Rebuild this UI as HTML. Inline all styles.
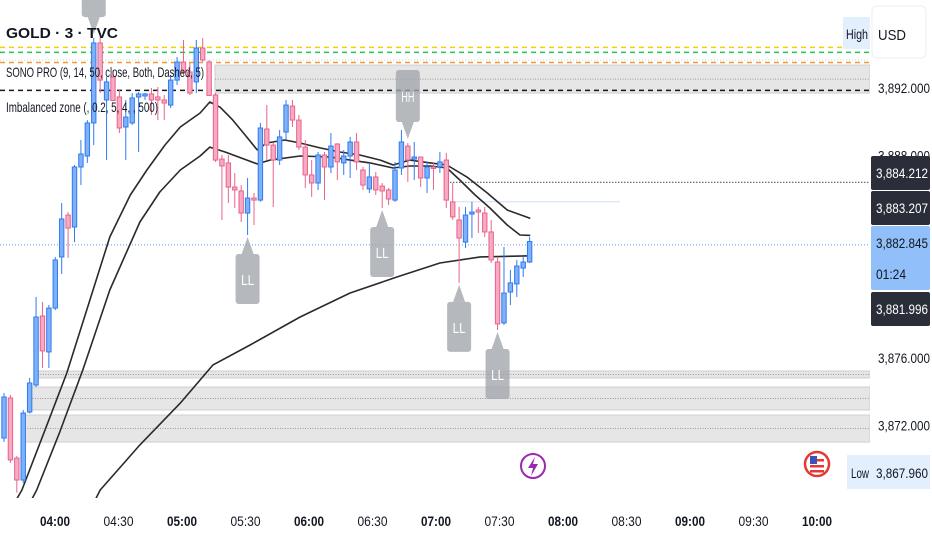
<!DOCTYPE html>
<html><head><meta charset="utf-8"><title>GOLD 3 TVC</title>
<style>
html,body{margin:0;padding:0;background:#fff;}
svg{display:block;font-family:"Liberation Sans",sans-serif;}
</style></head>
<body>
<svg id="chart" width="932" height="550" viewBox="0 0 932 550" xmlns="http://www.w3.org/2000/svg">
<defs><clipPath id="plotclip"><rect x="0" y="0" width="870" height="498"/></clipPath></defs>
<rect x="0" y="0" width="932" height="550" fill="#ffffff"/>
<g id="zones" clip-path="url(#plotclip)"></g>
<g id="lines" clip-path="url(#plotclip)"></g>
<g id="candles" clip-path="url(#plotclip)"></g>
<g id="markers" clip-path="url(#plotclip)"></g>
<g id="legend">
  <text x="6" y="38" font-size="15" font-weight="bold" fill="#131722" textLength="112" lengthAdjust="spacingAndGlyphs">GOLD · 3 · TVC</text>
  <text x="6" y="77" font-size="14" fill="#131722" textLength="198" lengthAdjust="spacingAndGlyphs">SONO PRO (9, 14, 50, close, Both, Dashed, 5)</text>
  <text x="6" y="112" font-size="14" fill="#131722" textLength="152" lengthAdjust="spacingAndGlyphs">Imbalanced zone (, 0.2, 5, 4, , 500)</text>
</g>
<g id="timeaxis"></g>
<g id="priceaxis"></g>
<g>
  <circle cx="533" cy="466" r="12" fill="#fff" stroke="#9c27b0" stroke-width="2"/>
  <path d="M535 457 L528 468 L533 468 L531 476 L538 464 L533 464 Z" fill="#9c27b0"/>
  <circle cx="817" cy="464" r="12" fill="#fff" stroke="#e53935" stroke-width="2.5"/>
  <rect x="810" y="459" width="14" height="2.5" fill="#e53935"/>
  <rect x="810" y="465" width="14" height="2.5" fill="#e53935"/>
  <rect x="810" y="470" width="14" height="2.5" fill="#e53935"/>
  <rect x="810" y="456" width="7" height="8" fill="#3f51b5"/>
</g>
</svg>
<script>
// ---- data ----
var opens = [3871.20,3873.57,3870.01,3868.71,3872.74,3874.34,3878.43,3876.30,3878.90,3881.93,
3884.41,3883.70,3887.26,3887.91,3889.87,3894.61,3891.23,3892.59,3891.41,3889.63,
3889.87,3891.41,3891.47,3891.59,3891.41,3891.23,3890.93,3892.41,3893.48,3892.89,
3892.30,3894.31,3893.48,3891.53,3887.73,3887.50,3886.07,3885.84,3884.53,3885.42,
3885.30,3889.51,3888.56,3887.67,3889.33,3890.87,3890.04,3888.44,3886.79,3886.31,
3887.97,3887.26,3888.62,3887.50,3887.91,3888.74,3887.08,3885.96,3886.67,3886.13,
3885.90,3885.30,3887.20,3888.50,3887.73,3887.85,3886.61,3887.26,3887.26,3887.67,
3885.19,3884.12,3882.81,3884.47,3884.71,3884.53,3883.41,3881.63,3878.02,3879.85,
3880.33,3881.27,3881.63];
var highs = [3873.87,3873.75,3870.13,3872.86,3874.76,3879.56,3879.26,3879.08,3881.93,3885.13,
3884.59,3887.38,3888.86,3890.04,3894.90,3895.02,3892.59,3893.01,3891.82,3891.23,
3891.64,3891.70,3891.64,3891.94,3892.00,3891.53,3892.71,3893.78,3894.79,3893.42,
3894.79,3894.90,3893.60,3891.64,3887.97,3887.97,3886.90,3886.19,3886.61,3885.72,
3889.87,3890.93,3888.68,3889.45,3891.23,3891.23,3890.34,3888.86,3887.67,3888.15,
3888.15,3889.27,3888.68,3888.27,3889.04,3889.27,3887.26,3887.50,3886.96,3886.31,
3886.01,3887.56,3889.45,3888.68,3888.74,3887.85,3887.56,3887.50,3888.15,3888.09,
3886.31,3884.89,3884.89,3885.19,3884.89,3884.89,3884.12,3881.93,3882.52,3881.16,
3881.75,3881.93,3883.11];
var lows = [3870.96,3869.72,3867.96,3868.53,3872.65,3874.22,3875.35,3875.35,3878.78,3880.92,
3881.87,3882.81,3886.19,3887.50,3888.56,3891.64,3887.67,3891.23,3889.27,3887.67,
3889.75,3888.15,3891.23,3890.34,3890.04,3890.04,3890.76,3892.12,3892.71,3891.53,
3891.64,3893.48,3891.53,3887.56,3884.12,3885.13,3884.83,3884.00,3883.23,3883.82,
3885.20,3887.67,3884.89,3887.38,3888.86,3889.63,3888.27,3886.01,3885.48,3885.90,
3885.30,3886.90,3886.49,3886.79,3886.61,3887.08,3885.90,3885.72,3885.60,3884.83,
3885.01,3885.19,3886.79,3886.37,3886.49,3886.07,3885.72,3885.90,3886.90,3884.83,
3884.12,3880.39,3882.46,3883.05,3883.35,3883.11,3881.57,3877.60,3877.90,3879.08,
3879.56,3880.74,3881.57];
var closes = [3873.63,3869.90,3868.71,3872.68,3874.46,3878.37,3876.36,3878.90,3881.75,3884.18,
3883.64,3887.26,3888.03,3889.87,3894.61,3892.41,3892.30,3891.20,3889.57,3890.22,
3891.35,3891.59,3891.59,3891.23,3891.23,3891.05,3892.41,3893.48,3892.89,3891.64,
3894.31,3893.60,3891.50,3887.67,3887.32,3886.07,3885.90,3884.53,3885.42,3885.30,
3889.57,3888.56,3887.67,3889.04,3890.93,3890.04,3888.44,3886.79,3886.31,3887.97,
3887.26,3888.50,3887.56,3887.91,3888.74,3887.56,3886.19,3886.67,3885.90,3885.84,
3885.36,3887.08,3888.74,3887.67,3887.85,3886.61,3887.26,3887.20,3887.56,3885.30,
3884.30,3883.05,3884.41,3884.59,3884.59,3883.41,3881.75,3877.96,3879.79,3880.39,
3881.39,3881.63,3882.845];
// moving-average lines: candle index positions and values
var maFastIdx = [0.5,2.8,6.4,9.8,13.4,16.5,19.7,22.3,25.1,27.5,30.6,32.1,33.7,35.7,37.6,39.5,41.0,43.8,46.2,49.3,52.4,55.5,58.7,60.7,63.3,66.5,69.1,72.2,75.4,78.5,82.1];
var maFastVal = [3866.6,3868.12,3871.67,3875.05,3879.38,3883.11,3885.60,3887.08,3888.56,3889.63,3890.46,3891.11,3890.81,3890.04,3889.16,3888.27,3888.68,3888.86,3888.68,3888.39,3888.15,3887.97,3887.67,3887.38,3887.67,3887.50,3887.38,3886.67,3885.72,3884.71,3884.212];
var maMidIdx = [3.0,5.1,8.7,12.3,16.5,21.2,24.3,27.5,30.6,32.1,34.5,39.5,41.5,46.2,50.9,54.0,57.1,60.7,63.3,66.5,69.1,71.1,73.5,75.8,78.5,80.5,82.1];
var maMidVal = [3866.6,3868.12,3871.56,3875.23,3879.97,3884.00,3885.78,3887.08,3887.91,3888.44,3888.15,3887.44,3887.67,3887.91,3887.85,3887.67,3887.50,3887.20,3887.32,3887.32,3887.20,3886.49,3885.60,3884.83,3883.82,3883.23,3883.207];
var maSlowIdx = [13.0,15.0,21.2,27.5,32.6,38.4,46.2,54.0,61.3,68.0,74.3,82.1];
var maSlowVal = [3866.6,3868.12,3870.79,3873.27,3875.53,3876.71,3878.37,3879.79,3880.74,3881.57,3881.93,3881.996];
// swing markers
var markerIdx = [14,63,38,59,71,77];
var markerText = ["HH","HH","LL","LL","LL","LL"];
// axis labels
var priceTicks = [3892,3888,3876,3872];
var timeLabels = ["04:00","04:30","05:00","05:30","06:00","06:30","07:00","07:30","08:00","08:30","09:00","09:30","10:00"];
var timeBold = [1,0,1,0,1,0,1,0,1,0,1,0,1];
var lastPrice = 3882.845;
var dayLow = 3867.960;

// ---- scales ----
var NS = "http://www.w3.org/2000/svg";
function xOf(i){ return 4 + i*6.41; }
function yOf(p){ return 87 + (3892 - p)*16.875; }
function timeX(k){ return 55 + k*63.5; }
function mk(tag, attrs, parent){
  var e = document.createElementNS(NS, tag);
  for (var a in attrs) e.setAttribute(a, attrs[a]);
  parent.appendChild(e); return e;
}
function fmt(p){ var s = p.toFixed(3); return s.charAt(0) + "," + s.slice(1); }

var zones = document.getElementById("zones");
var lines = document.getElementById("lines");
var cg = document.getElementById("candles");
var mg = document.getElementById("markers");
var tg = document.getElementById("timeaxis");
var pg = document.getElementById("priceaxis");

// ---- zones / horizontal levels ----
function zone(x, p1, p2, name){
  var y1 = yOf(p1), y2 = yOf(p2);
  var r = mk("rect", {x:x, y:y1, width:870-x, height:y2-y1, fill:"#e6e6e6", stroke:"#cfcfcf", "stroke-width":1}, zones);
  
  
  var l = mk("line", {x1:x, x2:870, y1:(y1+y2)/2, y2:(y1+y2)/2, stroke:"#9a9a9a", "stroke-width":1, "stroke-dasharray":"1,1.5"}, zones);
  
  
}
zone(215, 3893.30, 3891.64, "upper-imbalance-zone");
zone(38, 3875.17, 3874.76, "lower-imbalance-zone-1");
zone(30, 3874.22, 3872.86, "lower-imbalance-zone-2");
zone(25, 3872.56, 3870.96, "lower-imbalance-zone-3");
function hline(x1, x2, p, color, dash, w, name){
  var l = mk("line", {x1:x1, x2:x2, y1:yOf(p), y2:yOf(p), stroke:color, "stroke-width":w, "stroke-dasharray":dash}, zones);
  
  
}
hline(0, 870, 3894.35, "#f5d000", "5,4", 1.5, "yellow-dashed-level");
hline(0, 870, 3894.05, "#21c45a", "5,4", 1.5, "green-dashed-level");
hline(0, 870, 3893.60, "#b8d4f5", "1,2", 1, "light-blue-dotted-level");
hline(0, 870, 3893.45, "#f29a2e", "5,4", 1.5, "orange-dashed-level");
hline(0, 870, 3891.80, "#131722", "5,4", 1.5, "black-dashed-level");
hline(450, 870, 3886.35, "#707070", "1.5,1.5", 1.2, "ema-dotted-level");
hline(455, 620, 3885.20, "#cfe0f5", "", 1, "light-level-line");
hline(0, 870, lastPrice - 0.2, "#5b9cf6", "1,2", 1, "last-price-line");

// ---- moving averages ----
function maPath(idx, val, name){
  var d = "";
  for (var i = 0; i < idx.length; i++) d += (i ? " L" : "M") + xOf(idx[i]).toFixed(1) + " " + yOf(val[i]).toFixed(1);
  var p = mk("path", {d:d, fill:"none", stroke:"#2a2a2a", "stroke-width":1.6, "stroke-linejoin":"round"}, lines);
  
  
}
maPath(maFastIdx, maFastVal, "ema-9-line");
maPath(maMidIdx, maMidVal, "ema-14-line");
maPath(maSlowIdx, maSlowVal, "ema-50-line");

// ---- candles ----
for (var i = 0; i < opens.length; i++){
  var up = closes[i] >= opens[i];
  var fill = up ? "#7fb1f8" : "#f7aac2";
  var edge = up ? "#2f7bf0" : "#e8638b";
  var cx = xOf(i);
  var w = mk("line", {x1:cx, x2:cx, y1:yOf(highs[i]), y2:yOf(lows[i]), stroke:edge, "stroke-width":1}, cg);
  
  
  var bodyTop = yOf(Math.max(opens[i], closes[i]));
  var bodyBot = yOf(Math.min(opens[i], closes[i]));
  var b = mk("rect", {x:cx-2.2, y:bodyTop, width:4.4, height:Math.max(1.5, bodyBot-bodyTop), fill:fill, stroke:edge, "stroke-width":1}, cg);
  
  
}

// ---- swing markers ----
for (var m = 0; m < markerIdx.length; m++){
  var k = markerIdx[m], mx = xOf(k), g = mk("g", {}, mg);
  
  
  var isHigh = markerText[m] === "HH";
  var tip, by1, by2;
  if (isHigh){ tip = yOf(highs[k]) - 4; by2 = tip - 17; by1 = by2 - 52; }
  else { tip = yOf(lows[k]) + 2; by1 = tip + 17; by2 = by1 + 50; }
  var tri = isHigh ? (mx-6)+","+by2+" "+(mx+6)+","+by2+" "+mx+","+tip : (mx-6)+","+by1+" "+(mx+6)+","+by1+" "+mx+","+tip;
  mk("polygon", {points:tri, fill:"#a3a6ad", "fill-opacity":0.8}, g);
  mk("rect", {x:mx-12, y:by1, width:24, height:by2-by1, rx:3, fill:"#a3a6ad", "fill-opacity":0.8}, g);
  var t = mk("text", {x:mx, y:(by1+by2)/2+6, "font-size":15, fill:"#ffffff", "text-anchor":"middle", textLength:13, lengthAdjust:"spacingAndGlyphs"}, g);
  t.textContent = markerText[m];
}

// ---- time axis ----
for (var j = 0; j < timeLabels.length; j++){
  var tt = mk("text", {x:timeX(j), y:526, "font-size":14, "text-anchor":"middle", fill:"#131722", "font-weight": timeBold[j] ? "bold" : "normal", textLength:30, lengthAdjust:"spacingAndGlyphs"}, tg);
  
  
  tt.textContent = timeLabels[j];
}

// ---- price axis ----
var usd = mk("rect", {x:872, y:6, width:54, height:52, rx:5, fill:"#fff", stroke:"#eceef2"}, pg);


var ut = mk("text", {x:878, y:40, "font-size":15, fill:"#131722", textLength:28, lengthAdjust:"spacingAndGlyphs"}, pg);


ut.textContent = "USD";
var hb = mk("rect", {x:843, y:17, width:27, height:32, fill:"#e3effd"}, pg);


var ht = mk("text", {x:846, y:39, "font-size":14, fill:"#131722", textLength:22, lengthAdjust:"spacingAndGlyphs"}, pg);


ht.textContent = "High";
for (var q = 0; q < priceTicks.length; q++){
  var pt = mk("text", {x:878, y:yOf(priceTicks[q])+6, "font-size":14, fill:"#131722", textLength:52, lengthAdjust:"spacingAndGlyphs"}, pg);
  
  
  pt.textContent = fmt(priceTicks[q]);
}
function priceTag(y1, h, bg, fg, lines2, name){
  var r = mk("rect", {x:871, y:y1, width:59, height:h, rx:2, fill:bg}, pg);
  
  
  for (var s = 0; s < lines2.length; s++){
    var tx = mk("text", {x:876, y:y1+22+s*31, "font-size":14, fill:fg, textLength: lines2[s].length > 6 ? 52 : 30, lengthAdjust:"spacingAndGlyphs"}, pg);
    
    
    tx.textContent = lines2[s];
  }
}
priceTag(156, 34, "#2a2e39", "#ffffff", [fmt(maFastVal[maFastVal.length-1])], "ema-9-price-tag");
priceTag(191, 34, "#2a2e39", "#ffffff", [fmt(maMidVal[maMidVal.length-1])], "ema-14-price-tag");
priceTag(226, 64, "#90bff9", "#131722", [fmt(lastPrice), "01:24"], "last-price-tag");
priceTag(292, 34, "#2a2e39", "#ffffff", [fmt(maSlowVal[maSlowVal.length-1])], "ema-50-price-tag");
var lb = mk("rect", {x:847, y:455, width:83, height:34, fill:"#e3effd"}, pg);


var lt = mk("text", {x:851, y:478, "font-size":14, fill:"#131722", textLength:18, lengthAdjust:"spacingAndGlyphs"}, pg);


lt.textContent = "Low";
var lv = mk("text", {x:876, y:478, "font-size":14, fill:"#131722", textLength:52, lengthAdjust:"spacingAndGlyphs"}, pg);


lv.textContent = fmt(dayLow);
</script>
</body></html>
